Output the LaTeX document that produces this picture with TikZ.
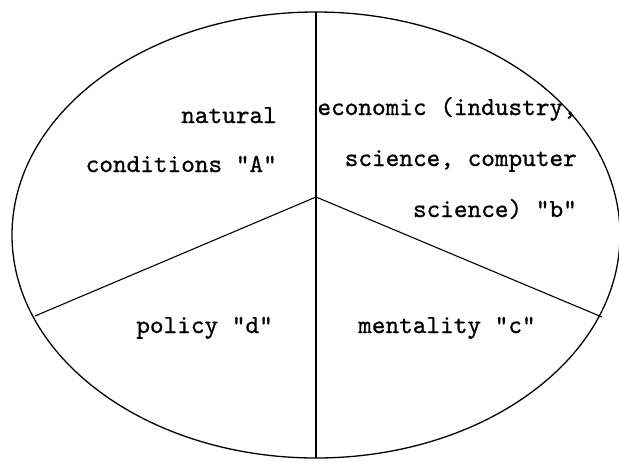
\documentclass[tikz,border=0pt]{standalone}
\usepackage{fontspec}
\setmonofont{lmmono10-regular.otf}[FakeBold=0.8]
\usetikzlibrary{positioning}
\tikzset{
  rim/.style={draw, line width=1.3pt},
  spoke/.style={draw, line width=1.1pt},
  sector/.style={font=\ttfamily\fontsize{26}{30}\selectfont, inner sep=0pt}
}
\begin{document}
\begin{tikzpicture}[x=1pt, y=-1pt]
  \useasboundingbox (0,0) rectangle (619,461);
  % outline and dividers
  \coordinate (mid) at (316,235);
  \coordinate (hub) at (316,197);
  \coordinate (top) at (316,12);
  \coordinate (bot) at (316,458);
  \coordinate (lft) at (35,316);
  \coordinate (rgt) at (602,317);
  \draw[rim] (mid) ellipse [x radius=304, y radius=223];
  \draw[spoke] (top) -- (bot);
  \draw[spoke] (hub) -- (lft);
  \draw[spoke] (hub) -- (rgt);
  % labels
  \node[sector, anchor=base east] (natA1) at (277,123) {natural};
  \node[sector, anchor=base east] (natA2) at (277,172) {conditions "A"};
  \node[sector, anchor=base east] (ecoB1) at (577,115) {economic (industry,};
  \node[sector, anchor=base east] (ecoB2) at (577,166) {science, computer};
  \node[sector, anchor=base east] (ecoB3) at (577,217) {science) "b"};
  \node[sector, anchor=base east] (polD) at (273,333) {policy "d"};
  \node[sector, anchor=base west] (menC) at (358,333) {mentality "c"};
\end{tikzpicture}
\end{document}
